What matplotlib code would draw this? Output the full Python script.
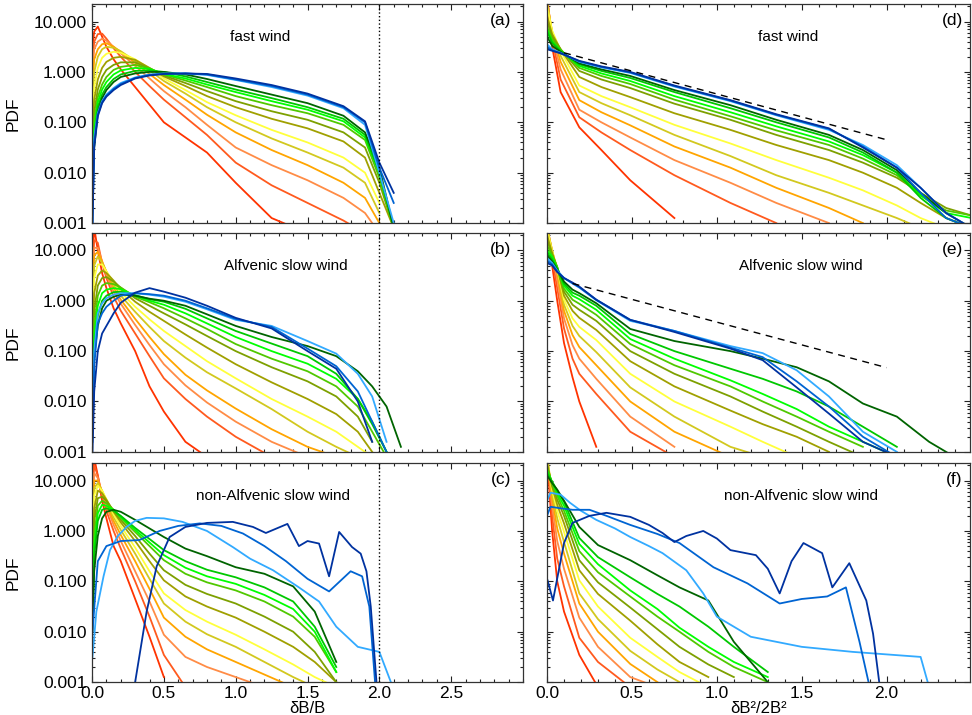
import numpy as np
import matplotlib
matplotlib.use("Agg")
from matplotlib import pyplot as plt
from matplotlib.ticker import FixedLocator, MultipleLocator, LogLocator, NullFormatter, FormatStrFormatter

plt.rcParams['font.family'] = ['Liberation Sans', 'DejaVu Sans']

nan = np.nan

''' colours: smallest scale (red) -> largest scale (dark blue) '''
colors = ['#ff3300', '#ff5a1e', '#ff8c46', '#ffa500', '#d2c81e', '#ffff3c', '#a0a000',
          '#7da000', '#50c800', '#00ff00', '#00c800', '#006400', '#32aaff', '#0064d2', '#0032a0']

''' (a) fast wind, dB/B -- log10(PDF) on a shared grid '''
x_a = [0.003, 0.015, 0.04, 0.07, 0.1, 0.15, 0.2, 0.3, 0.4, 0.5, 0.65, 0.8, 1.0, 1.25, 1.5, 1.75, 1.9, 2.0, 2.1]
pdf_a = [
    [0.5, 0.8, 0.9, 0.7, 0.5, 0.25, 0.05, -0.3, -0.65, -1.0, -1.3, -1.6, -2.2, -2.9, -3.2, nan, nan, nan, nan],
    [0.2, 0.6, 0.75, 0.76, 0.66, 0.47, 0.3, 0.0, -0.28, -0.55, -0.9, -1.25, -1.8, -2.25, -2.6, -2.95, -3.2, nan, nan],
    [0.0, 0.45, 0.6, 0.66, 0.62, 0.5, 0.37, 0.12, -0.13, -0.38, -0.7, -1.05, -1.5, -1.85, -2.15, -2.5, -2.8, -3.2, nan],
    [-0.3, 0.25, 0.45, 0.55, 0.57, 0.5, 0.4, 0.18, -0.04, -0.26, -0.55, -0.85, -1.2, -1.55, -1.85, -2.2, -2.5, -3.0, nan],
    [-0.6, 0.0, 0.3, 0.45, 0.5, 0.48, 0.41, 0.22, 0.03, -0.18, -0.43, -0.7, -1.0, -1.32, -1.6, -1.9, -2.2, -2.8, nan],
    [-0.9, -0.3, 0.08, 0.28, 0.36, 0.4, 0.38, 0.25, 0.07, -0.13, -0.36, -0.6, -0.86, -1.15, -1.4, -1.7, -2.0, -2.6, nan],
    [-1.2, -0.55, -0.15, 0.08, 0.2, 0.28, 0.3, 0.24, 0.08, -0.09, -0.28, -0.48, -0.7, -0.93, -1.12, -1.38, -1.7, -2.4, -3.1],
    [-1.5, -0.8, -0.35, -0.1, 0.04, 0.14, 0.19, 0.19, 0.07, -0.07, -0.22, -0.38, -0.58, -0.78, -0.95, -1.2, -1.5, -2.2, -3.1],
    [-1.8, -1.0, -0.5, -0.25, -0.1, 0.04, 0.1, 0.14, 0.07, -0.05, -0.17, -0.3, -0.48, -0.66, -0.82, -1.05, -1.35, -2.1, -3.1],
    [-2.0, -1.15, -0.6, -0.35, -0.2, -0.05, 0.03, 0.08, 0.06, -0.04, -0.13, -0.25, -0.4, -0.58, -0.75, -0.98, -1.3, -2.0, -3.1],
    [-2.3, -1.3, -0.7, -0.45, -0.3, -0.14, -0.05, 0.02, 0.03, 0.0, -0.09, -0.2, -0.35, -0.52, -0.7, -0.93, -1.25, -2.0, -3.1],
    [-2.5, -1.5, -0.8, -0.52, -0.36, -0.2, -0.1, -0.03, 0.0, 0.0, -0.05, -0.14, -0.28, -0.45, -0.62, -0.87, -1.2, -1.9, -3.1],
    [-3.0, -1.3, -0.82, -0.58, -0.45, -0.32, -0.22, -0.11, -0.05, -0.03, -0.03, -0.06, -0.16, -0.3, -0.47, -0.72, -1.05, -2.0, -3.0],
    [-3.0, -1.4, -0.85, -0.6, -0.47, -0.34, -0.24, -0.12, -0.06, -0.04, -0.03, -0.05, -0.15, -0.28, -0.45, -0.7, -1.0, -1.9, -2.6],
    [-3.0, -1.5, -0.88, -0.62, -0.49, -0.36, -0.26, -0.13, -0.07, -0.04, -0.03, -0.04, -0.13, -0.26, -0.43, -0.68, -0.98, -1.8, -2.4],
]

''' (b) Alfvenic slow wind, dB/B '''
x_b = [0.003, 0.015, 0.04, 0.07, 0.1, 0.15, 0.2, 0.3, 0.4, 0.5, 0.65, 0.8, 1.0, 1.25, 1.5, 1.7, 1.85, 1.95, 2.05, 2.15]
pdf_b = [
    [0.8, 1.45, 1.0, 0.55, 0.25, -0.15, -0.45, -1.0, -1.7, -2.2, -2.8, -3.1, nan, nan, nan, nan, nan, nan, nan, nan],
    [0.6, 1.2, 1.15, 0.75, 0.45, 0.08, -0.2, -0.65, -1.1, -1.54, -1.95, -2.3, -2.7, -3.1, nan, nan, nan, nan, nan, nan],
    [0.4, 1.05, 1.05, 0.78, 0.52, 0.18, -0.06, -0.48, -0.88, -1.26, -1.68, -2.02, -2.4, -2.8, -3.1, nan, nan, nan, nan, nan],
    [0.2, 0.9, 0.97, 0.78, 0.57, 0.26, 0.02, -0.36, -0.72, -1.06, -1.47, -1.78, -2.14, -2.55, -2.9, -3.1, nan, nan, nan, nan],
    [-0.1, 0.7, 0.88, 0.75, 0.58, 0.32, 0.1, -0.22, -0.52, -0.8, -1.13, -1.42, -1.74, -2.15, -2.6, -2.9, -3.1, nan, nan, nan],
    [-0.4, 0.45, 0.72, 0.72, 0.58, 0.37, 0.17, -0.12, -0.37, -0.6, -0.9, -1.2, -1.54, -1.95, -2.3, -2.6, -2.9, -3.1, nan, nan],
    [-0.8, 0.15, 0.5, 0.6, 0.55, 0.4, 0.23, -0.02, -0.22, -0.4, -0.67, -0.93, -1.26, -1.62, -1.95, -2.25, -2.6, -3.0, nan, nan],
    [-1.2, -0.2, 0.3, 0.45, 0.47, 0.38, 0.26, 0.05, -0.1, -0.25, -0.47, -0.7, -1.0, -1.32, -1.6, -1.9, -2.3, -2.8, nan, nan],
    [-1.5, -0.5, 0.1, 0.3, 0.35, 0.33, 0.26, 0.08, -0.03, -0.15, -0.35, -0.56, -0.86, -1.15, -1.4, -1.7, -2.1, -2.6, -3.1, nan],
    [-1.8, -0.7, -0.1, 0.15, 0.22, 0.25, 0.23, 0.1, 0.0, -0.08, -0.25, -0.45, -0.72, -1.0, -1.25, -1.55, -1.95, -2.4, -3.0, nan],
    [-2.0, -0.9, -0.3, 0.0, 0.1, 0.17, 0.18, 0.11, 0.03, -0.02, -0.16, -0.35, -0.6, -0.85, -1.1, -1.45, -1.95, -2.45, -3.0, nan],
    [-2.3, -1.1, -0.5, -0.15, 0.0, 0.08, 0.12, 0.1, 0.04, 0.0, -0.1, -0.27, -0.5, -0.72, -0.9, -1.1, -1.4, -1.7, -2.1, -2.9],
    [-2.5, -1.0, -0.25, -0.05, 0.05, 0.12, 0.15, 0.15, 0.12, 0.08, -0.02, -0.17, -0.38, -0.5, -0.8, -1.05, -1.45, -1.9, -2.8, nan],
    [-2.8, -1.3, -0.45, -0.25, -0.12, 0.0, 0.1, 0.15, 0.13, 0.1, 0.0, -0.15, -0.36, -0.52, -0.95, -1.3, -1.8, -2.4, -3.0, nan],
    [-3.0, -1.8, -1.0, -0.65, -0.5, -0.25, -0.04, 0.16, 0.25, 0.18, 0.06, -0.1, -0.34, -0.55, -1.0, -1.35, -2.0, -2.8, nan, nan],
]

''' (c) non-Alfvenic slow wind, dB/B: small scales on a grid, large scales (blues) own knots '''
x_c = [0.003, 0.015, 0.04, 0.07, 0.1, 0.15, 0.2, 0.3, 0.4, 0.5, 0.65, 0.8, 1.0, 1.2, 1.4, 1.55, 1.7]
pdf_c = [
    [1.0, 1.45, 1.1, 0.6, 0.25, -0.3, -0.6, -1.35, -2.1, -2.9, nan, nan, nan, nan, nan, nan, nan],
    [0.7, 1.3, 1.1, 0.7, 0.4, 0.0, -0.35, -1.0, -1.7, -2.46, -3.1, nan, nan, nan, nan, nan, nan],
    [0.5, 1.15, 1.05, 0.75, 0.5, 0.12, -0.2, -0.8, -1.4, -2.06, -2.5, -2.7, -2.9, -3.1, nan, nan, nan],
    [0.3, 1.0, 1.0, 0.78, 0.55, 0.2, -0.08, -0.6, -1.15, -1.72, -2.1, -2.35, -2.6, -2.85, -3.1, nan, nan],
    [0.0, 0.85, 0.95, 0.8, 0.6, 0.27, 0.02, -0.45, -0.95, -1.44, -1.8, -2.05, -2.3, -2.6, -2.9, -3.1, nan],
    [-0.3, 0.7, 0.9, 0.8, 0.63, 0.33, 0.1, -0.33, -0.8, -1.24, -1.57, -1.8, -2.06, -2.35, -2.65, -2.9, -3.1],
    [-0.7, 0.45, 0.8, 0.75, 0.62, 0.38, 0.17, -0.2, -0.6, -0.98, -1.3, -1.5, -1.72, -2.0, -2.3, -2.6, -3.0],
    [-1.0, 0.2, 0.65, 0.68, 0.6, 0.4, 0.22, -0.1, -0.45, -0.78, -1.07, -1.25, -1.44, -1.7, -2.0, -2.4, -3.0],
    [-1.3, -0.1, 0.5, 0.6, 0.55, 0.42, 0.26, -0.02, -0.3, -0.58, -0.85, -1.02, -1.18, -1.4, -1.7, -2.1, -2.8],
    [-1.6, -0.3, 0.35, 0.52, 0.5, 0.42, 0.28, 0.02, -0.23, -0.48, -0.73, -0.9, -1.05, -1.27, -1.55, -2.0, -2.8],
    [-1.8, -0.5, 0.2, 0.42, 0.45, 0.4, 0.3, 0.06, -0.16, -0.38, -0.6, -0.77, -0.92, -1.12, -1.4, -1.9, -2.7],
    [-2.0, -0.8, -0.1, 0.25, 0.38, 0.42, 0.38, 0.22, 0.05, -0.12, -0.35, -0.5, -0.72, -0.85, -1.1, -1.6, -2.6],
]
x_c_blue = [
    [0.003, 0.03, 0.08, 0.125, 0.18, 0.24, 0.3, 0.38, 0.5, 0.63, 0.8, 0.98, 1.1, 1.26, 1.44, 1.58, 1.7, 1.85, 2.0, 2.08],
    [0.003, 0.04, 0.1, 0.2, 0.33, 0.47, 0.6, 0.75, 0.9, 1.05, 1.2, 1.35, 1.5, 1.65, 1.8, 1.88, 1.93, 1.97],
    [0.3, 0.38, 0.45, 0.54, 0.65, 0.8, 0.98, 1.12, 1.21, 1.31, 1.36, 1.44, 1.5, 1.58, 1.65, 1.72, 1.81, 1.87, 1.91, 1.94, 1.98],
]
pdf_c_blue = [
    [-2.5, -1.6, -0.9, -0.38, -0.1, 0.08, 0.2, 0.26, 0.25, 0.18, 0.0, -0.32, -0.55, -0.78, -1.12, -1.4, -1.9, -2.3, -2.4, -3.0],
    [-2.0, -0.6, -0.3, -0.2, -0.18, 0.0, 0.1, 0.15, 0.1, -0.05, -0.3, -0.6, -0.95, -1.2, -0.8, -0.9, -1.5, -3.0],
    [-3.0, -1.6, -0.7, -0.12, 0.08, 0.16, 0.18, 0.08, -0.04, 0.08, 0.14, -0.3, -0.2, -0.25, -0.9, -0.02, -0.32, -0.45, -0.8, -1.5, -3.0],
]

''' (d) fast wind, dB^2/2B^2 '''
x_d = [0.0, 0.03, 0.08, 0.19, 0.32, 0.49, 0.75, 1.08, 1.35, 1.66, 1.86, 2.06, 2.2, 2.35, 2.5]
pdf_d = [
    [1.5, 0.5, -0.4, -1.1, -1.55, -2.15, -2.9, nan, nan, nan, nan, nan, nan, nan, nan],
    [1.5, 0.65, -0.15, -0.9, -1.2, -1.55, -2.05, -2.6, -3.0, nan, nan, nan, nan, nan, nan],
    [1.45, 0.72, 0.05, -0.75, -1.0, -1.3, -1.75, -2.2, -2.6, -3.0, nan, nan, nan, nan, nan],
    [1.4, 0.78, 0.2, -0.56, -0.8, -1.06, -1.48, -1.9, -2.3, -2.7, -3.0, nan, nan, nan, nan],
    [1.35, 0.8, 0.32, -0.4, -0.62, -0.86, -1.25, -1.67, -2.05, -2.4, -2.65, -2.9, -3.1, nan, nan],
    [1.3, 0.82, 0.42, -0.27, -0.48, -0.7, -1.05, -1.42, -1.75, -2.1, -2.35, -2.65, -2.9, -3.1, nan],
    [1.1, 0.75, 0.45, -0.1, -0.3, -0.5, -0.82, -1.15, -1.45, -1.75, -2.0, -2.3, -2.6, -2.9, -3.1],
    [1.0, 0.7, 0.45, 0.02, -0.15, -0.32, -0.63, -0.95, -1.25, -1.55, -1.8, -2.1, -2.4, -2.7, -2.85],
    [0.9, 0.65, 0.44, 0.08, -0.08, -0.24, -0.55, -0.88, -1.16, -1.45, -1.72, -2.05, -2.45, -2.75, -2.85],
    [0.85, 0.6, 0.42, 0.12, -0.03, -0.18, -0.48, -0.8, -1.08, -1.38, -1.65, -2.0, -2.45, -2.8, -2.9],
    [0.8, 0.58, 0.41, 0.15, 0.02, -0.12, -0.4, -0.72, -1.0, -1.3, -1.6, -2.0, -2.5, -2.9, -3.1],
    [0.7, 0.52, 0.4, 0.17, 0.05, -0.08, -0.36, -0.66, -0.95, -1.25, -1.55, -1.95, -2.4, -2.8, -3.1],
    [0.55, 0.45, 0.38, 0.2, 0.09, -0.02, -0.29, -0.58, -0.86, -1.15, -1.45, -1.85, -2.3, -2.8, -3.1],
    [0.5, 0.43, 0.37, 0.21, 0.1, -0.01, -0.28, -0.57, -0.85, -1.13, -1.48, -1.9, -2.4, -2.9, -3.1],
    [0.45, 0.42, 0.37, 0.22, 0.11, 0.0, -0.27, -0.56, -0.84, -1.12, -1.5, -1.9, -2.3, -2.8, -3.1],
]

''' (e) Alfvenic slow wind, dB^2/2B^2 '''
x_e = [0.0, 0.03, 0.06, 0.1, 0.15, 0.19, 0.29, 0.49, 0.75, 1.08, 1.27, 1.47, 1.66, 1.86, 2.06, 2.25, 2.4]
pdf_e = [
    [1.5, 0.7, 0.0, -0.84, -1.52, -2.0, -2.9, nan, nan, nan, nan, nan, nan, nan, nan, nan, nan],
    [1.5, 0.85, 0.25, -0.55, -1.15, -1.45, -1.85, -2.6, -3.1, nan, nan, nan, nan, nan, nan, nan, nan],
    [1.5, 0.95, 0.42, -0.35, -0.88, -1.15, -1.55, -2.3, -2.9, nan, nan, nan, nan, nan, nan, nan, nan],
    [1.45, 1.0, 0.55, -0.2, -0.68, -0.92, -1.28, -2.0, -2.6, -3.1, nan, nan, nan, nan, nan, nan, nan],
    [1.45, 1.0, 0.6, -0.08, -0.5, -0.7, -1.02, -1.72, -2.3, -2.9, -3.1, nan, nan, nan, nan, nan, nan],
    [1.4, 0.98, 0.64, 0.02, -0.35, -0.52, -0.78, -1.45, -2.0, -2.5, -2.8, -3.1, nan, nan, nan, nan, nan],
    [1.3, 0.95, 0.66, 0.1, -0.2, -0.34, -0.58, -1.2, -1.7, -2.18, -2.45, -2.7, -3.0, nan, nan, nan, nan],
    [1.2, 0.92, 0.67, 0.18, -0.08, -0.18, -0.4, -1.0, -1.45, -1.9, -2.2, -2.5, -2.8, -3.1, nan, nan, nan],
    [1.1, 0.9, 0.66, 0.24, 0.02, -0.06, -0.28, -0.86, -1.28, -1.7, -2.0, -2.3, -2.6, -2.9, nan, nan, nan],
    [1.0, 0.87, 0.65, 0.3, 0.1, 0.03, -0.18, -0.76, -1.15, -1.58, -1.85, -2.15, -2.5, -2.8, -3.1, nan, nan],
    [0.95, 0.82, 0.63, 0.34, 0.16, 0.1, -0.1, -0.66, -1.0, -1.35, -1.55, -1.8, -2.1, -2.5, -2.9, nan, nan],
    [0.9, 0.78, 0.62, 0.38, 0.22, 0.15, -0.05, -0.56, -0.8, -1.0, -1.15, -1.32, -1.6, -2.04, -2.3, -2.8, -3.1],
    [0.85, 0.75, 0.6, 0.45, 0.34, 0.26, 0.01, -0.4, -0.6, -0.9, -1.04, -1.38, -1.9, -2.6, -3.0, nan, nan],
    [0.8, 0.72, 0.58, 0.45, 0.35, 0.27, 0.02, -0.38, -0.6, -0.93, -1.12, -1.6, -2.1, -2.7, -3.1, nan, nan],
    [0.75, 0.7, 0.57, 0.45, 0.36, 0.28, 0.02, -0.38, -0.62, -0.95, -1.18, -1.72, -2.24, -2.8, -3.1, nan, nan],
]

''' (f) non-Alfvenic slow wind, dB^2/2B^2 '''
x_f = [0.0, 0.03, 0.06, 0.1, 0.19, 0.3, 0.49, 0.65, 0.78, 0.95, 1.1, 1.3]
pdf_f = [
    [1.5, 0.0, -1.0, -1.6, -2.46, -3.1, nan, nan, nan, nan, nan, nan],
    [1.5, 0.3, -0.55, -1.1, -2.12, -2.6, -3.1, nan, nan, nan, nan, nan],
    [1.5, 0.5, -0.2, -0.75, -1.72, -2.3, -2.9, -3.1, nan, nan, nan, nan],
    [1.5, 0.65, 0.05, -0.45, -1.44, -2.0, -2.64, -3.0, nan, nan, nan, nan],
    [1.5, 0.75, 0.25, -0.22, -1.24, -1.75, -2.38, -2.75, -3.0, nan, nan, nan],
    [1.4, 0.82, 0.4, -0.02, -0.98, -1.5, -2.12, -2.5, -2.8, -3.1, nan, nan],
    [1.35, 0.88, 0.52, 0.15, -0.78, -1.25, -1.78, -2.25, -2.6, -2.9, nan, nan],
    [1.3, 0.92, 0.62, 0.3, -0.58, -1.02, -1.52, -1.95, -2.3, -2.65, -2.9, nan],
    [1.25, 0.95, 0.7, 0.4, -0.4, -0.82, -1.3, -1.7, -2.0, -2.4, -2.7, -3.0],
    [1.2, 0.97, 0.75, 0.5, -0.26, -0.66, -1.18, -1.55, -1.92, -2.3, -2.6, -2.9],
    [1.15, 0.98, 0.8, 0.58, -0.14, -0.52, -0.92, -1.25, -1.5, -1.9, -2.3, -2.8],
    [1.1, 0.95, 0.82, 0.6, 0.08, -0.28, -0.58, -0.88, -1.12, -1.38, -2.2, -3.0],
]
x_f_blue = [
    [0.0, 0.02, 0.08, 0.135, 0.2, 0.29, 0.4, 0.49, 0.6, 0.68, 0.82, 0.92, 1.0, 1.2, 1.5, 1.8, 2.0, 2.2, 2.25],
    [0.0, 0.02, 0.08, 0.15, 0.25, 0.35, 0.49, 0.65, 0.78, 0.98, 1.18, 1.37, 1.5, 1.65, 1.76, 1.84, 1.9],
    [0.003, 0.035, 0.1, 0.15, 0.25, 0.35, 0.49, 0.6, 0.68, 0.75, 0.82, 0.92, 1.0, 1.08, 1.23, 1.3, 1.37,
     1.44, 1.51, 1.62, 1.68, 1.78, 1.88, 1.92, 1.96],
]
pdf_f_blue = [
    [0.6, 0.76, 0.72, 0.56, 0.4, 0.22, 0.05, -0.12, -0.3, -0.44, -0.78, -1.24, -1.7, -2.1, -2.3, -2.4, -2.45, -2.5, -3.1],
    [0.3, 0.48, 0.45, 0.42, 0.42, 0.3, 0.12, -0.06, -0.24, -0.72, -1.04, -1.44, -1.35, -1.3, -1.12, -2.2, -3.1],
    [-0.98, -1.38, -0.24, 0.16, 0.3, 0.36, 0.28, 0.12, -0.04, -0.22, -0.1, 0.0, -0.15, -0.38, -0.48, -0.75, -1.24,
     -0.6, -0.24, -0.44, -1.12, -0.64, -1.38, -2.04, -3.1],
]

''' reference exponential (dashed) in (d) and (e) '''
dash_d_x, dash_d_y = [0.1, 2.0], [2.4, 0.045]
dash_e_x, dash_e_y = [0.15, 2.0], [2.2, 0.047]

titles = ['fast wind', 'Alfvenic slow wind', 'non-Alfvenic slow wind']
title_x_left = [0.39, 0.45, 0.42]
title_x_right = [0.57, 0.6, 0.6]
tags_left = ['(a)', '(b)', '(c)']
tags_right = ['(d)', '(e)', '(f)']

fig = plt.figure(figsize=(9.72, 7.15), dpi=100)
bottoms = [0.688, 0.368, 0.046]
height = 0.306


def style_axis(ax, xmax, xticks, show_ylabels, show_xlabels):
    ax.set_yscale('log')
    ax.set_ylim(1e-3, 22)
    ax.set_xlim(0, xmax)
    ax.xaxis.set_major_locator(FixedLocator(xticks))
    ax.xaxis.set_minor_locator(MultipleLocator(0.1))
    ax.yaxis.set_major_locator(LogLocator(base=10, numticks=10))
    ax.yaxis.set_minor_locator(LogLocator(base=10, subs=np.arange(2, 10), numticks=20))
    ax.yaxis.set_minor_formatter(NullFormatter())
    if show_ylabels:
        ax.yaxis.set_major_formatter(FormatStrFormatter('%.3f'))
    else:
        ax.yaxis.set_major_formatter(NullFormatter())
    if show_xlabels:
        ax.xaxis.set_major_formatter(FormatStrFormatter('%.1f'))
    else:
        ax.xaxis.set_major_formatter(NullFormatter())
    ax.tick_params(which='both', direction='in', top=True, right=True, width=0.8, colors='#222222',
                   labelcolor='black', labelsize=12.5)
    ax.tick_params(which='major', length=4)
    ax.tick_params(which='minor', length=2)
    ax.tick_params(axis='x', pad=3)
    ax.tick_params(axis='y', pad=4)
    for s in ax.spines.values():
        s.set_linewidth(0.9)
        s.set_color('#333333')


def draw(ax, xs, rows):
    for k, row in enumerate(rows):
        ax.plot(xs, 10 ** np.asarray(row, dtype=float), color=colors[k], lw=1.3)


left_sets = [(x_a, pdf_a, None, None), (x_b, pdf_b, None, None), (x_c, pdf_c, x_c_blue, pdf_c_blue)]
right_sets = [(x_d, pdf_d, None, None), (x_e, pdf_e, None, None), (x_f, pdf_f, x_f_blue, pdf_f_blue)]

for i in range(3):
    last = i == 2
    # left column: dB/B
    ax = fig.add_axes([0.0947, bottoms[i], 0.4434, height])
    xs, rows, xb, rb = left_sets[i]
    draw(ax, xs, rows)
    if xb is not None:
        for j in range(len(xb)):
            ax.plot(xb[j], 10 ** np.asarray(rb[j], dtype=float), color=colors[12 + j], lw=1.3)
    ax.axvline(2.0, color='black', ls=':', lw=1.0)
    style_axis(ax, 3.0, [0.0, 0.5, 1.0, 1.5, 2.0, 2.5], True, last)
    ax.set_ylabel('PDF', fontsize=12.5)
    ax.yaxis.set_label_coords(-0.165, 0.5)
    ax.text(title_x_left[i], 0.85, titles[i], transform=ax.transAxes, ha='center', va='center', fontsize=11)
    ax.text(0.972, 0.925, tags_left[i], transform=ax.transAxes, ha='right', va='center', fontsize=12.5)
    if last:
        ax.text(0.5, -0.122, 'δB/B', transform=ax.transAxes, ha='center', va='center', fontsize=12)

    # right column: dB^2/2B^2
    ax = fig.add_axes([0.5628, bottoms[i], 0.435, height])
    xs, rows, xb, rb = right_sets[i]
    draw(ax, xs, rows)
    if xb is not None:
        for j in range(len(xb)):
            ax.plot(xb[j], 10 ** np.asarray(rb[j], dtype=float), color=colors[12 + j], lw=1.3)
    if i == 0:
        ax.plot(dash_d_x, dash_d_y, color='black', ls=(0, (5, 4)), lw=1.0)
    if i == 1:
        ax.plot(dash_e_x, dash_e_y, color='black', ls=(0, (5, 4)), lw=1.0)
    style_axis(ax, 2.49, [0.0, 0.5, 1.0, 1.5, 2.0], False, last)
    ax.text(title_x_right[i], 0.85, titles[i], transform=ax.transAxes, ha='center', va='center', fontsize=11)
    ax.text(0.983, 0.925, tags_right[i], transform=ax.transAxes, ha='right', va='center', fontsize=12.5)
    if last:
        ax.text(0.5, -0.122, 'δB²/2B²', transform=ax.transAxes, ha='center', va='center', fontsize=12)

fig.savefig('out.png', dpi=100)
